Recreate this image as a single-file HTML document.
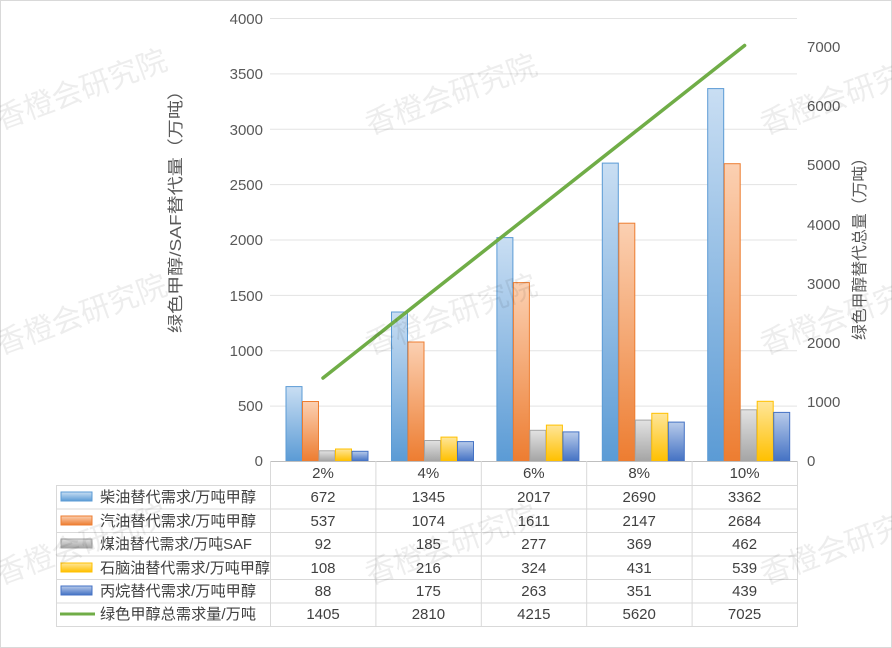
<!DOCTYPE html>
<html><head><meta charset="utf-8"><style>
body{margin:0;background:#fff}
svg{display:block;font-family:"Liberation Sans","Noto Sans CJK SC",sans-serif}
</style></head><body>
<svg width="892" height="648" viewBox="0 0 892 648" xmlns="http://www.w3.org/2000/svg">
<defs>
<linearGradient id="g1" x1="0" y1="0" x2="0" y2="1"><stop offset="0" stop-color="#c9def3"/><stop offset="1" stop-color="#5b9bd5"/></linearGradient>
<linearGradient id="g2" x1="0" y1="0" x2="0" y2="1"><stop offset="0" stop-color="#fbd0b2"/><stop offset="1" stop-color="#ed7d31"/></linearGradient>
<linearGradient id="g3" x1="0" y1="0" x2="0" y2="1"><stop offset="0" stop-color="#e2e2e2"/><stop offset="1" stop-color="#a5a5a5"/></linearGradient>
<linearGradient id="g4" x1="0" y1="0" x2="0" y2="1"><stop offset="0" stop-color="#ffe699"/><stop offset="1" stop-color="#ffc000"/></linearGradient>
<linearGradient id="g5" x1="0" y1="0" x2="0" y2="1"><stop offset="0" stop-color="#b8cbea"/><stop offset="1" stop-color="#4472c4"/></linearGradient>
</defs>
<rect x="0.5" y="0.5" width="891" height="647" fill="#fff" stroke="#d9d9d9"/>
<g stroke="#e3e3e3" stroke-width="1">
<line x1="270" x2="797" y1="18.5" y2="18.5"/><line x1="270" x2="797" y1="73.9" y2="73.9"/>
<line x1="270" x2="797" y1="129.3" y2="129.3"/><line x1="270" x2="797" y1="184.6" y2="184.6"/>
<line x1="270" x2="797" y1="240" y2="240"/><line x1="270" x2="797" y1="295.4" y2="295.4"/>
<line x1="270" x2="797" y1="350.8" y2="350.8"/><line x1="270" x2="797" y1="406.1" y2="406.1"/>
</g>
<g font-size="15" fill="#595959" text-anchor="end">
<text x="263" y="24">4000</text><text x="263" y="79">3500</text><text x="263" y="135">3000</text>
<text x="263" y="190">2500</text><text x="263" y="245">2000</text><text x="263" y="301">1500</text>
<text x="263" y="356">1000</text><text x="263" y="411">500</text><text x="263" y="466">0</text>
</g>
<g font-size="15" fill="#595959">
<text x="807" y="52">7000</text><text x="807" y="111">6000</text><text x="807" y="170">5000</text>
<text x="807" y="230">4000</text><text x="807" y="289">3000</text><text x="807" y="348">2000</text>
<text x="807" y="407">1000</text><text x="807" y="466">0</text>
</g>
<text transform="translate(181,207) rotate(-90)" font-size="16" fill="#595959" text-anchor="middle" textLength="252" lengthAdjust="spacingAndGlyphs">绿色甲醇/SAF替代量（万吨）</text>
<text transform="translate(865,245) rotate(-90)" font-size="16" fill="#595959" text-anchor="middle" textLength="190" lengthAdjust="spacingAndGlyphs">绿色甲醇替代总量（万吨）</text>
<g stroke-width="1">
<g stroke="#5b9bd5" fill="url(#g1)">
<rect x="286" y="386.6" width="16" height="74.4"/><rect x="391.5" y="312" width="16" height="149"/>
<rect x="496.9" y="237.6" width="16" height="223.4"/><rect x="602.3" y="163.1" width="16" height="297.9"/>
<rect x="707.7" y="88.6" width="16" height="372.4"/></g>
<g stroke="#ed7d31" fill="url(#g2)">
<rect x="302.5" y="401.5" width="16" height="59.5"/><rect x="408" y="342" width="16" height="119"/>
<rect x="513.4" y="282.6" width="16" height="178.4"/><rect x="618.8" y="223.2" width="16" height="237.8"/>
<rect x="724.2" y="163.7" width="16" height="297.3"/></g>
<g stroke="#a5a5a5" fill="url(#g3)">
<rect x="319" y="450.8" width="16" height="10.2"/><rect x="424.5" y="440.5" width="16" height="20.5"/>
<rect x="529.9" y="430.3" width="16" height="30.7"/><rect x="635.3" y="420.1" width="16" height="40.9"/>
<rect x="740.7" y="409.8" width="16" height="51.2"/></g>
<g stroke="#ffc000" fill="url(#g4)">
<rect x="335.5" y="449" width="16" height="12"/><rect x="441" y="437.1" width="16" height="23.9"/>
<rect x="546.4" y="425.1" width="16" height="35.9"/><rect x="651.8" y="413.3" width="16" height="47.7"/>
<rect x="757.2" y="401.3" width="16" height="59.7"/></g>
<g stroke="#4472c4" fill="url(#g5)">
<rect x="352" y="451.3" width="16" height="9.7"/><rect x="457.5" y="441.6" width="16" height="19.4"/>
<rect x="562.9" y="431.9" width="16" height="29.1"/><rect x="668.3" y="422.1" width="16" height="38.9"/>
<rect x="773.7" y="412.4" width="16" height="48.6"/></g>
</g>
<polyline points="323,378 428.4,294.8 533.8,211.7 639.2,128.6 744.6,45.5" fill="none" stroke="#70ad47" stroke-width="3.5" stroke-linecap="round"/>
<g stroke="#d9d9d9" stroke-width="1" fill="none">
<line x1="270" x2="797" y1="461.5" y2="461.5" stroke="#bfbfbf"/>
<line x1="56" x2="797" y1="485.5" y2="485.5"/><line x1="56" x2="797" y1="509" y2="509"/>
<line x1="56" x2="797" y1="532.5" y2="532.5"/><line x1="56" x2="797" y1="556" y2="556"/>
<line x1="56" x2="797" y1="579.5" y2="579.5"/><line x1="56" x2="797" y1="603" y2="603"/>
<line x1="56" x2="797" y1="626.5" y2="626.5"/>
<line x1="56.5" x2="56.5" y1="485" y2="627"/>
<line x1="270.5" x2="270.5" y1="461" y2="627"/><line x1="375.9" x2="375.9" y1="461" y2="627"/>
<line x1="481.3" x2="481.3" y1="461" y2="627"/><line x1="586.7" x2="586.7" y1="461" y2="627"/>
<line x1="692.1" x2="692.1" y1="461" y2="627"/><line x1="797.5" x2="797.5" y1="461" y2="627"/>
</g>
<rect x="61" y="492" width="31" height="9" fill="url(#g1)" stroke="#5b9bd5"/>
<rect x="61" y="516" width="31" height="9" fill="url(#g2)" stroke="#ed7d31"/>
<rect x="61" y="539" width="31" height="9" fill="url(#g3)" stroke="#a5a5a5"/>
<rect x="61" y="563" width="31" height="9" fill="url(#g4)" stroke="#ffc000"/>
<rect x="61" y="586" width="31" height="9" fill="url(#g5)" stroke="#4472c4"/>
<line x1="60" x2="95" y1="614" y2="614" stroke="#70ad47" stroke-width="3"/>
<g font-size="15" fill="#404040">
<text x="100" y="502" textLength="156" lengthAdjust="spacingAndGlyphs">柴油替代需求/万吨甲醇</text>
<text x="100" y="526" textLength="156" lengthAdjust="spacingAndGlyphs">汽油替代需求/万吨甲醇</text>
<text x="100" y="549" textLength="152" lengthAdjust="spacingAndGlyphs">煤油替代需求/万吨SAF</text>
<text x="100" y="573" textLength="170" lengthAdjust="spacingAndGlyphs">石脑油替代需求/万吨甲醇</text>
<text x="100" y="596" textLength="156" lengthAdjust="spacingAndGlyphs">丙烷替代需求/万吨甲醇</text>
<text x="100" y="619" textLength="156" lengthAdjust="spacingAndGlyphs">绿色甲醇总需求量/万吨</text>
</g>
<g font-size="15" fill="#404040" text-anchor="middle">
<text x="323" y="478">2%</text><text x="428.4" y="478">4%</text><text x="533.8" y="478">6%</text><text x="639.2" y="478">8%</text><text x="744.6" y="478">10%</text>
<text x="323" y="502">672</text><text x="428.4" y="502">1345</text><text x="533.8" y="502">2017</text><text x="639.2" y="502">2690</text><text x="744.6" y="502">3362</text>
<text x="323" y="526">537</text><text x="428.4" y="526">1074</text><text x="533.8" y="526">1611</text><text x="639.2" y="526">2147</text><text x="744.6" y="526">2684</text>
<text x="323" y="549">92</text><text x="428.4" y="549">185</text><text x="533.8" y="549">277</text><text x="639.2" y="549">369</text><text x="744.6" y="549">462</text>
<text x="323" y="573">108</text><text x="428.4" y="573">216</text><text x="533.8" y="573">324</text><text x="639.2" y="573">431</text><text x="744.6" y="573">539</text>
<text x="323" y="596">88</text><text x="428.4" y="596">175</text><text x="533.8" y="596">263</text><text x="639.2" y="596">351</text><text x="744.6" y="596">439</text>
<text x="323" y="619">1405</text><text x="428.4" y="619">2810</text><text x="533.8" y="619">4215</text><text x="639.2" y="619">5620</text><text x="744.6" y="619">7025</text>
</g>
<g font-size="30" fill="#000" fill-opacity="0.07">
<text transform="translate(0,130) rotate(-20)">香橙会研究院</text>
<text transform="translate(370,135) rotate(-20)">香橙会研究院</text>
<text transform="translate(765,135) rotate(-20)">香橙会研究院</text>
<text transform="translate(0,355) rotate(-20)">香橙会研究院</text>
<text transform="translate(370,355) rotate(-20)">香橙会研究院</text>
<text transform="translate(765,355) rotate(-20)">香橙会研究院</text>
<text transform="translate(0,585) rotate(-20)">香橙会研究院</text>
<text transform="translate(370,585) rotate(-20)">香橙会研究院</text>
<text transform="translate(765,585) rotate(-20)">香橙会研究院</text>
</g>
</svg>
</body></html>
